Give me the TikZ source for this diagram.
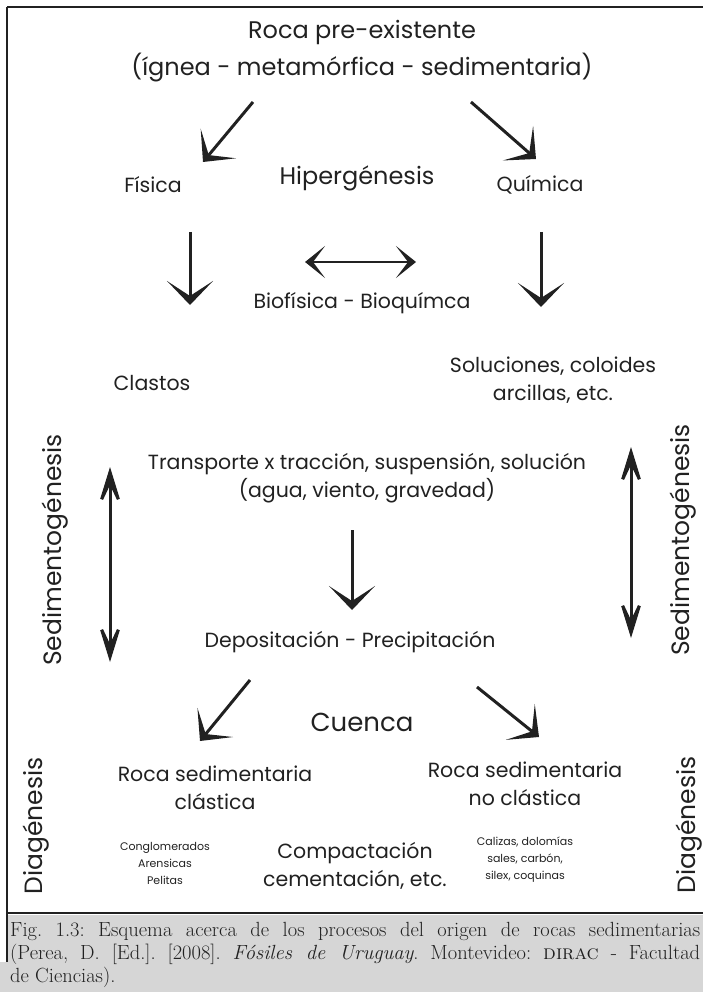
\documentclass[tikz,border=0pt]{standalone}
\usepackage{fontspec}
\newfontfamily\gothic{Poppins}
\usetikzlibrary{arrows.meta}
\definecolor{tinta}{gray}{0.13}
\definecolor{gris}{gray}{0.84}

\begin{document}
\begin{tikzpicture}[x=1pt,y=-1pt,
  txt/.style={font=\gothic\fontsize{20.5}{28}\selectfont,text=tinta,align=center,inner sep=0pt},
  big/.style={txt,font=\gothic\fontsize{24}{34}\selectfont},
  lista/.style={txt,font=\gothic\fontsize{11}{17}\selectfont},
  vertical/.style={big,font=\gothic\fontsize{25}{30}\selectfont,rotate=90},
  flecha/.style={line width=3pt,tinta,-{Stealth[length=24pt,width=46pt,inset=15pt]}},
  doble/.style={line width=3pt,tinta,{Stealth[length=52pt,width=32pt,inset=34pt]}-{Stealth[length=52pt,width=32pt,inset=34pt]}},
  corta/.style={line width=1.8pt,tinta,{Stealth[length=20pt,width=32pt,inset=12pt]}-{Stealth[length=20pt,width=32pt,inset=12pt]}}]

\useasboundingbox (0,0) rectangle (703,992);

% Frame
\draw[line width=2.5pt,tinta] (7,7) -- (703,7);
\draw[line width=1.5pt,tinta] (7,7) -- (7,913);
\draw[line width=2pt,tinta] (7,913) -- (703,913);

% Caption box
\fill[gris] (8,915) rectangle (703,992);
\fill[gris] (0,962) rectangle (8,992);
\draw[line width=1.2pt,tinta] (7,913) -- (7,962);
\node[anchor=north west,text width=690pt,align=justify,inner sep=0pt,
  font=\fontsize{20.5}{23}\selectfont\frenchspacing,text=tinta] (caption) at (10,922)
  {Fig. 1.3: Esquema acerca de los procesos del origen de rocas sedimentarias\linebreak
   (Perea, D. [Ed.]. [2008]. \textit{Fósiles de Uruguay}. Montevideo: \textsc{dirac} - Facultad\linebreak
   de Ciencias).};

% Top: source rock
\node[big] (roca) at (362,32) {Roca pre-existente};
\node[big] (tipos) at (362,68) {(ígnea - metamórfica - sedimentaria)};

% Weathering
\node[txt] (fisica) at (153,185) {Física};
\node[big] (hiper) at (357,178) {Hipergénesis};
\node[txt] (quimica) at (540,185) {Química};
\node[txt] (bio) at (362,303) {Biofísica - Bioquímca};
\node[txt] (clastos) at (152,383) {Clastos};
\node[txt] (soluc) at (553,380) {Soluciones, coloides\\arcillas, etc.};

% Transport and deposition
\node[txt] (transp) at (367,478) {Transporte x tracción, suspensión, solución\\(agua, viento, gravedad)};
\node[txt] (depos) at (350,642) {Depositación - Precipitación};
\node[big,font=\gothic\fontsize{26}{34}\selectfont] (cuenca) at (362,722) {Cuenca};

% Rocks
\node[txt] (clastica) at (215,788) {Roca sedimentaria\\clástica};
\node[txt] (noclast) at (525,784) {Roca sedimentaria\\no clástica};
\node[lista] (ejclast) at (165,863) {Conglomerados\\Arensicas\\Pelitas};
\node[txt] (compact) at (355,866) {Compactación\\cementación, etc.};
\node[lista] (ejnoclast) at (525,860) {Calizas, dolomías\\sales, carbón,\\silex, coquinas};

% Side labels
\node[vertical] (sedL) at (55,550) {Sedimentogénesis};
\node[vertical] (sedR) at (683,540) {Sedimentogénesis};
\node[vertical] (diaL) at (36,826) {Diagénesis};
\node[vertical] (diaR) at (689,825) {Diagénesis};

% Arrow ends
\coordinate (a1) at (253,102); \coordinate (b1) at (203,162);
\coordinate (a2) at (471,102); \coordinate (b2) at (536,159);
\coordinate (a3) at (190,232); \coordinate (b3) at (190,305);
\coordinate (a4) at (541,232); \coordinate (b4) at (541,307);
\coordinate (a5) at (305,262); \coordinate (b5) at (416,262);
\coordinate (a6) at (110,467); \coordinate (b6) at (110,662);
\coordinate (a7) at (631,447); \coordinate (b7) at (631,638);
\coordinate (a8) at (352,530); \coordinate (b8) at (352,610);
\coordinate (a9) at (250,680); \coordinate (b9) at (200,741);
\coordinate (a10) at (477,687); \coordinate (b10) at (539,737);

% Arrows
\foreach \s/\e in {a1/b1,a2/b2,a3/b3,a4/b4,a8/b8,a9/b9,a10/b10}
  \draw[flecha] (\s) -- (\e);
\draw[corta] (a5) -- (b5);
\draw[doble] (a6) -- (b6);
\draw[doble] (a7) -- (b7);

\end{tikzpicture}
\end{document}
